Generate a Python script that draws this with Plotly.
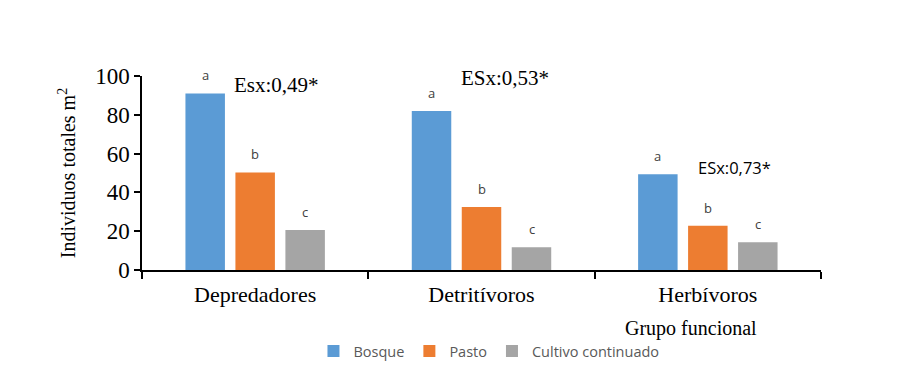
import plotly.graph_objects as go

categories = ["Depredadores", "Detritívoros", "Herbívoros"]
series_names = ["Bosque", "Pasto", "Cultivo continuado"]
bosque = [91.0, 82.0, 49.3]
pasto = [50.3, 32.5, 22.8]
cultivo = [20.6, 11.7, 14.3]
letters = [["a", "a", "a"], ["b", "b", "b"], ["c", "c", "c"]]
esx_labels = ["Esx:0,49*", "ESx:0,53*", "ESx:0,73*"]
y_ticks = [0, 20, 40, 60, 80, 100]

colors = ["#5B9BD5", "#ED7D31", "#A5A5A5"]
values = [bosque, pasto, cultivo]

fig = go.Figure()
for name, vals, col in zip(series_names, values, colors):
    fig.add_trace(go.Bar(name=name, x=categories, y=vals, marker_color=col,
                         marker_line_width=0))

annotations = []
offsets = [-0.221, 0.0, 0.221]
for s, vals in enumerate(values):
    for i, v in enumerate(vals):
        annotations.append(dict(x=i + offsets[s], y=v, xref="x", yref="y", text=letters[s][i],
                                showarrow=False, yshift=18,
                                font=dict(family="Open Sans, Calibri, sans-serif", size=13, color="#404040")))

esx_pos = [(0.093, 95.4, "Liberation Serif", 21), (1.105, 99.0, "Liberation Serif", 21),
           (2.116, 53.0, "Open Sans", 16.5)]
for lab, (x, y, fam, sz) in zip(esx_labels, esx_pos):
    annotations.append(dict(x=x, y=y, xref="x", yref="y", text=lab, showarrow=False,
                            font=dict(family=fam, size=sz, color="black")))

annotations.append(dict(x=0.809, y=-0.30, xref="paper", yref="paper", text="Grupo funcional",
                        xanchor="center", yanchor="middle",
                        showarrow=False, font=dict(family="Liberation Serif", size=20, color="black")))

fig.update_layout(
    width=921, height=387,
    margin=dict(l=134, r=108, t=68, b=125),
    paper_bgcolor="white", plot_bgcolor="white",
    barmode="group", bargap=0.3375, bargroupgap=0.21,
    showlegend=True,
    legend=dict(orientation="h", x=0.511, y=-0.418, xanchor="center", yanchor="middle",
                font=dict(family="Open Sans, Calibri, sans-serif", size=14.5, color="#595959"),
                itemwidth=30, tracegroupgap=0),
    annotations=annotations,
)
fig.update_xaxes(showline=True, linecolor="black", linewidth=1.5, ticks="outside",
                 tickson="boundaries", ticklen=7, tickcolor="black", tickwidth=1.5,
                 ticklabelstandoff=4,
                 tickfont=dict(family="Liberation Serif", size=22, color="black"),
                 showgrid=False, range=[-0.5, 2.5])
fig.update_yaxes(range=[0, 100], tickvals=y_ticks, showline=True, linecolor="black", linewidth=1.5,
                 ticks="outside", ticklen=6, tickcolor="black", tickwidth=1.5,
                 tickfont=dict(family="Liberation Serif", size=23, color="black"),
                 showgrid=False, zeroline=False,
                 title=dict(text="Individuos totales m<sup>2</sup>", standoff=14,
                            font=dict(family="Liberation Serif", size=20, color="black")))

fig.write_html("out.html")
